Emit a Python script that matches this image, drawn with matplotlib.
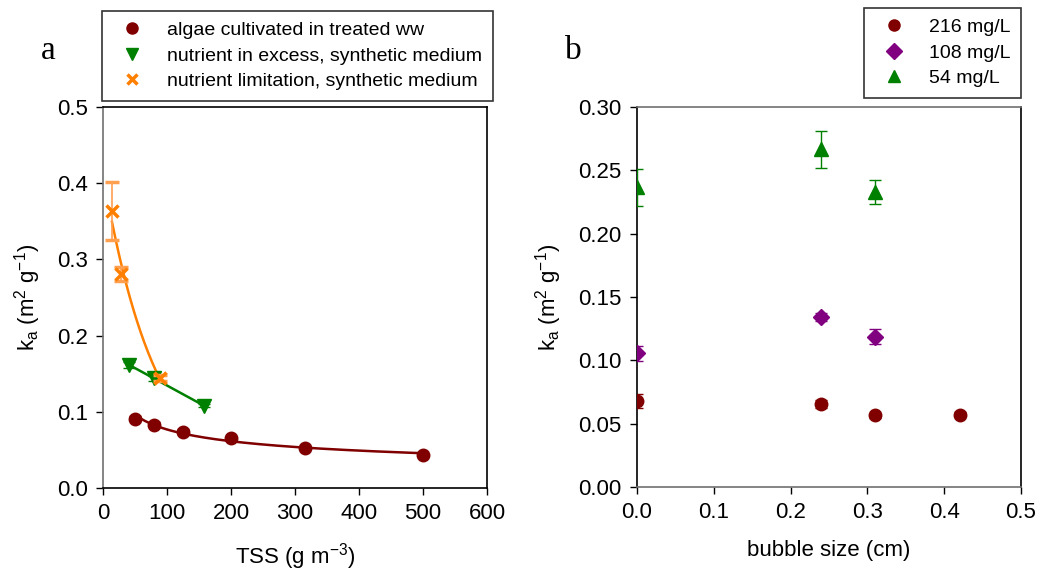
import numpy as np
import matplotlib
matplotlib.use("Agg")
import matplotlib.pyplot as plt
from matplotlib.lines import Line2D

plt.rcParams['font.family'] = ['Liberation Sans', 'DejaVu Sans']
plt.rcParams['mathtext.fontset'] = 'custom'
plt.rcParams['mathtext.rm'] = 'Liberation Sans'

# panel a: light attenuation vs TSS
tss_ww = [50, 80, 125, 200, 316, 500]
ka_ww = [0.091, 0.083, 0.074, 0.066, 0.053, 0.043]
err_ww = [0.003, 0.003, 0.003, 0.002, 0.002, 0.002]

tss_ex = [40, 79, 158]
ka_ex = [0.162, 0.144, 0.108]
err_ex = [0.004, 0.003, 0.002]

tss_lim = [14, 28, 89]
ka_lim = [0.364, 0.281, 0.144]
err_lim = [0.038, 0.009, 0.004]

# panel b: ka vs bubble size
bubble = {
    '216 mg/L': ([0.0, 0.24, 0.31, 0.42], [0.068, 0.0657, 0.0565, 0.0572], [0.0055, 0.003, 0.002, 0.002]),
    '108 mg/L': ([0.0, 0.24, 0.31], [0.1057, 0.1341, 0.1188], [0.006, 0.003, 0.006]),
    '54 mg/L': ([0.0, 0.24, 0.31], [0.2367, 0.2666, 0.2328], [0.0145, 0.0146, 0.0096]),
}

BROWN = '#800000'
GREEN = '#008000'
ORANGE = '#ff8000'
PURPLE = '#800080'
FS = 16

fig = plt.figure(figsize=(10.41, 5.74), dpi=100)
ax1 = fig.add_axes([103 / 1041, 1 - 488 / 574, 384 / 1041, 381 / 574])
ax2 = fig.add_axes([637 / 1041, 1 - 487 / 574, 384 / 1041, 380 / 574])


def power_fit(x, y):
    b, a = np.polyfit(np.log(x), np.log(y), 1)
    xs = np.linspace(min(x), max(x), 200)
    return xs, np.exp(a) * xs ** b


def exp_fit(x, y):
    b, a = np.polyfit(x, np.log(y), 1)
    xs = np.linspace(min(x), max(x), 200)
    return xs, np.exp(a + b * xs)


def lin_fit(x, y):
    b, a = np.polyfit(x, y, 1)
    xs = np.linspace(min(x), max(x), 50)
    return xs, a + b * xs


# fitted trend lines
xs, ys = power_fit(tss_ww, ka_ww)
ax1.plot(xs, ys, color=BROWN, lw=1.8, zorder=2)
xs, ys = lin_fit(tss_ex, ka_ex)
ax1.plot(xs, ys, color=GREEN, lw=1.8, zorder=2)
xs, ys = exp_fit(tss_lim, ka_lim)
ax1.plot(xs, ys, color=ORANGE, lw=1.8, zorder=2)

ax1.errorbar(tss_ww, ka_ww, yerr=err_ww, fmt='o', color=BROWN, ms=9,
             capsize=4, elinewidth=1, zorder=3)
ax1.errorbar(tss_ex, ka_ex, yerr=err_ex, fmt='v', color=GREEN, ms=10,
             capsize=4, elinewidth=1, zorder=3)
ax1.errorbar(tss_lim, ka_lim, yerr=err_lim, fmt='x', color=ORANGE, ms=9, mew=2.5,
             ecolor='#ffa050', capsize=5, elinewidth=1.2, zorder=4)

ax1.set_xlim(0, 600)
ax1.set_ylim(0, 0.5)
ax1.set_xticks(np.arange(0, 601, 100))
ax1.set_yticks(np.arange(0, 0.51, 0.1))
ax1.set_yticklabels([f'{v:.1f}' for v in np.arange(0, 0.51, 0.1)])
ax1.set_xlabel(r'TSS (g m$^{\mathregular{-3}}$)', fontsize=FS, labelpad=12)
ax1.set_ylabel(r'k$_\mathregular{a}$ (m$^\mathregular{2}$ g$^\mathregular{-1}$)', fontsize=FS, labelpad=10)

markers = {'216 mg/L': ('o', BROWN, 9), '108 mg/L': ('D', PURPLE, 8), '54 mg/L': ('^', GREEN, 10)}
for name, (x, y, e) in bubble.items():
    m, c, s = markers[name]
    ax2.errorbar(x, y, yerr=e, fmt=m, color=c, ms=s, capsize=4, elinewidth=1, zorder=3)

ax2.set_xlim(0, 0.5)
ax2.set_ylim(0, 0.30)
ax2.set_xticks(np.arange(0, 0.51, 0.1))
ax2.set_xticklabels([f'{v:.1f}' for v in np.arange(0, 0.51, 0.1)])
ax2.set_yticks(np.arange(0, 0.301, 0.05))
ax2.set_yticklabels([f'{v:.2f}' for v in np.arange(0, 0.301, 0.05)])
ax2.set_xlabel('bubble size (cm)', fontsize=FS, labelpad=12)
ax2.set_ylabel(r'k$_\mathregular{a}$ (m$^\mathregular{2}$ g$^\mathregular{-1}$)', fontsize=FS, labelpad=10)

for ax in (ax1, ax2):
    ax.tick_params(direction='out', length=5, width=1, labelsize=FS, pad=6)
    for sp in ax.spines.values():
        sp.set_linewidth(1.2)
        sp.set_color('black')
ax1.spines['left'].set_color('#707070')
ax2.spines['bottom'].set_color('#707070')
ax2.spines['top'].set_color('#707070')

# legends
leg_kw = dict(fontsize=14, frameon=True, fancybox=False, edgecolor='black',
              handletextpad=0.8, labelspacing=0.4, borderpad=0.55, handlelength=2.0,
              borderaxespad=0)
h1 = [Line2D([], [], ls='none', marker='o', color=BROWN, ms=8),
      Line2D([], [], ls='none', marker='v', color=GREEN, ms=8),
      Line2D([], [], ls='none', marker='x', color=ORANGE, ms=7, mew=2.5)]
l1 = ['algae cultivated in treated ww', 'nutrient in excess, synthetic medium',
      'nutrient limitation, synthetic medium']
fig.legend(h1, l1, loc='upper left', bbox_to_anchor=(102 / 1041, 1 - 11 / 574),
           **leg_kw).get_frame().set_linewidth(1.2)

h2 = [Line2D([], [], ls='none', marker=markers[k][0], color=markers[k][1], ms=8)
      for k in bubble]
fig.legend(h2, list(bubble.keys()), loc='upper right', bbox_to_anchor=(1021 / 1041, 1 - 8 / 574),
           **leg_kw).get_frame().set_linewidth(1.2)

fig.text(41 / 1041, 1 - 59 / 574, 'a', fontsize=24, family='Liberation Serif')
fig.text(565 / 1041, 1 - 59 / 574, 'b', fontsize=24, family='Liberation Serif')

fig.savefig('out.png', dpi=100)
